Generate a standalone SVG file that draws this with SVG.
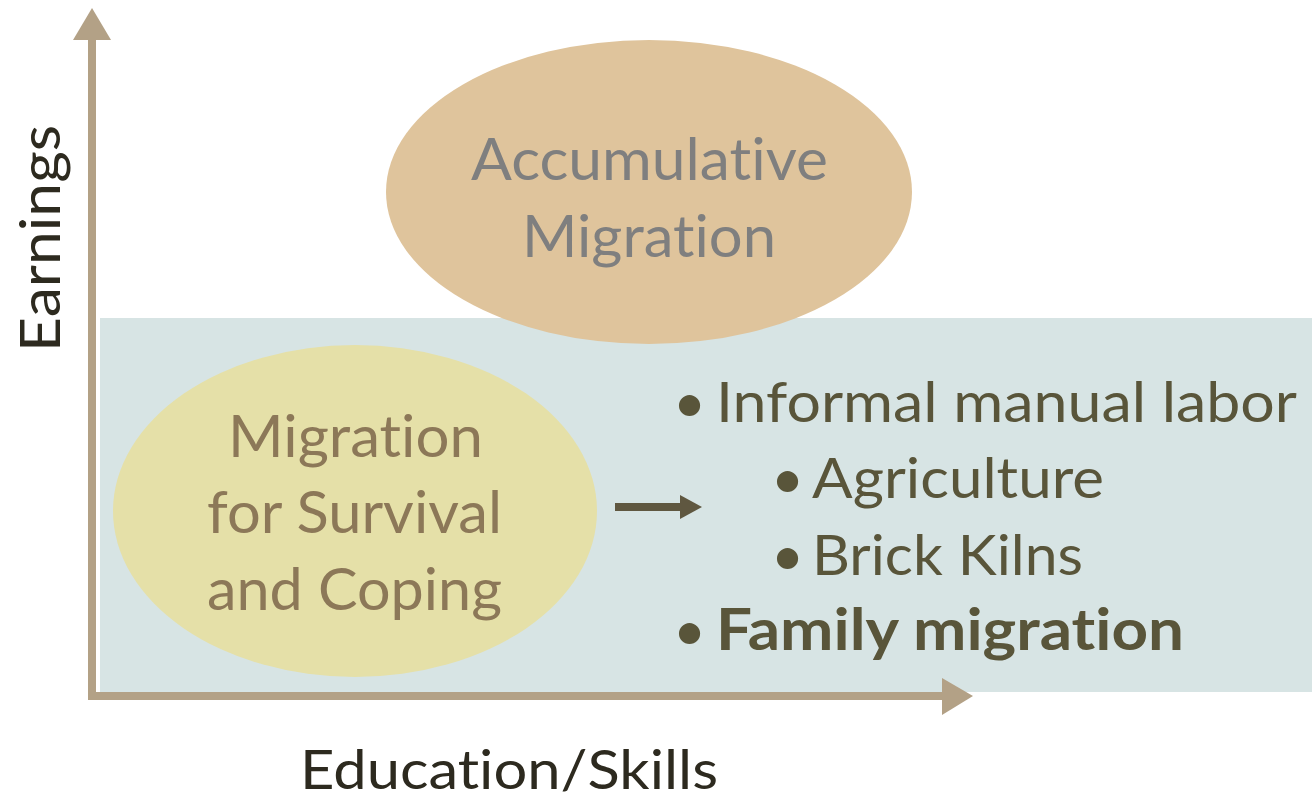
<svg xmlns="http://www.w3.org/2000/svg" width="1312" height="799" viewBox="0 0 1312 799">
<style>
.t{font-family:Lato,"Open Sans",sans-serif;font-variant-ligatures:none}
.b{fill:#59553a;font-size:57px}
</style>
<rect width="1312" height="799" fill="#fff"/>
<rect id="band" x="100" y="318" width="1212" height="374" fill="#d7e4e4"/>
<g id="axes">
<path d="M92 700V40" stroke="#b3a186" stroke-width="8"/>
<polygon points="73,40 111,40 92,8" fill="#b3a186"/>
<path d="M88 696H943" stroke="#b3a186" stroke-width="8"/>
<polygon points="942,678 942,715 973,696" fill="#b3a186"/>
</g>
<g id="accumulative">
<ellipse cx="649" cy="192" rx="263" ry="152" fill="#dfc49c"/>
<text class="t" x="471" y="180" font-size="59" fill="#7f7f7f" textLength="357" lengthAdjust="spacingAndGlyphs">Accumulative</text>
<text class="t" x="522" y="257" font-size="59" fill="#7f7f7f" textLength="254" lengthAdjust="spacingAndGlyphs">Migration</text>
</g>
<g id="survival">
<ellipse cx="355" cy="511" rx="242" ry="166" fill="#e5e0a8"/>
<text class="t" x="228" y="457" font-size="59" fill="#8c7858" textLength="255" lengthAdjust="spacingAndGlyphs">Migration</text>
<text class="t" x="207" y="533" font-size="59" fill="#8c7858" textLength="295" lengthAdjust="spacingAndGlyphs">for Survival</text>
<text class="t" x="207" y="610" font-size="59" fill="#8c7858" textLength="295" lengthAdjust="spacingAndGlyphs">and Coping</text>
</g>
<g id="connectors">
<path d="M615 507H682" stroke="#5f5740" stroke-width="8"/>
<polygon points="680,495 680,519 702,507" fill="#5f5740"/>
</g>
<g id="list">
<text class="t b" x="673" y="422">•</text>
<text class="t b" x="716" y="422" textLength="581" lengthAdjust="spacingAndGlyphs">Informal manual labor</text>
<text class="t b" x="771" y="498">•</text>
<text class="t b" x="812" y="498" textLength="292" lengthAdjust="spacingAndGlyphs">Agriculture</text>
<text class="t b" x="771" y="575">•</text>
<text class="t b" x="812" y="575" textLength="271" lengthAdjust="spacingAndGlyphs">Brick Kilns</text>
<text class="t b" x="673" y="650">•</text>
<text class="t b" x="716" y="650" font-weight="bold" textLength="468" lengthAdjust="spacingAndGlyphs">Family migration</text>
</g>
<text id="ylabel" class="t" transform="translate(60,352) rotate(-90)" font-size="56" fill="#2d2a1f" textLength="227" lengthAdjust="spacingAndGlyphs">Earnings</text>
<text id="xlabel" class="t" x="300" y="789" font-size="55" fill="#2d2a1f" textLength="418" lengthAdjust="spacingAndGlyphs">Education/Skills</text>
</svg>
